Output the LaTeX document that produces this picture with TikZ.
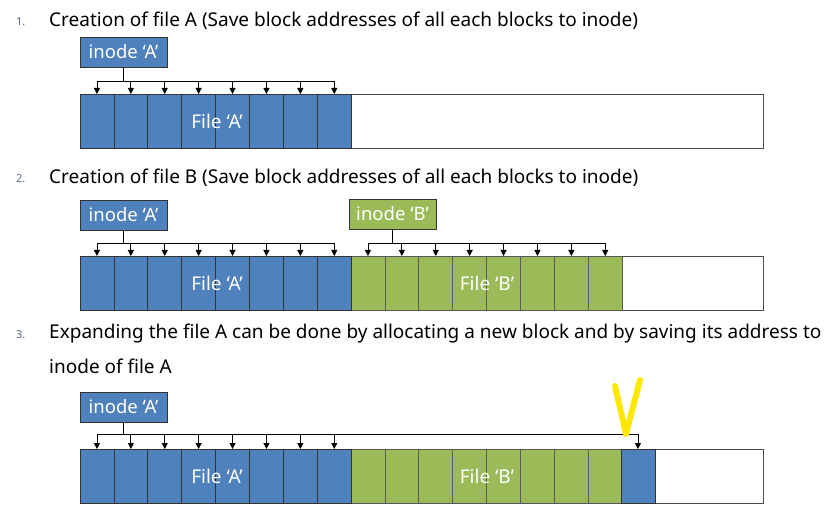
\documentclass[tikz,border=0pt]{standalone}
\usepackage{fontspec}
\setmainfont{Noto Sans}
\usetikzlibrary{positioning,arrows.meta}
\definecolor{blueA}{HTML}{4F81BD}
\definecolor{greenB}{HTML}{9BBB59}
\definecolor{numgray}{HTML}{5A6A8A}
\definecolor{markyellow}{HTML}{FFE800}

\begin{document}
\begin{tikzpicture}[x=1pt, y=-1pt,
    ablk/.style={draw=black!80, fill=blueA, line width=0.7pt, minimum width=33.9pt, minimum height=54pt, inner sep=0pt, outer sep=0pt, anchor=north west},
    bblk/.style={ablk, fill=greenB, draw=black!65},
    strip/.style={draw=black!70, line width=0.7pt, minimum width=683pt, minimum height=54pt, inner sep=0pt, outer sep=0pt, anchor=north west},
    inode/.style={draw=black!80, line width=0.7pt, text=white, minimum width=87pt, minimum height=30pt, inner sep=0pt, outer sep=0pt, anchor=north west, font=\fontsize{18.5}{18.5}\selectfont},
    item/.style={anchor=base west, inner sep=0pt, font=\fontsize{19}{19}\selectfont},
    num/.style={anchor=base west, inner sep=0pt, text=numgray, font=\fontsize{11}{11}\selectfont},
    flabel/.style={text=white, inner sep=0pt, font=\fontsize{19}{19}\selectfont},
    addr/.style={-{Triangle[length=6pt, width=6pt]}, line width=0.9pt},
    bus/.style={line width=0.9pt}]
\useasboundingbox (0,0) rectangle (829,510);

% 1. file A
\node[num] (n1) at (16,26) {1.};
\node[item] (t1) at (49,27) {Creation of file A (Save block addresses of all each blocks to inode)};
\node[inode, fill=blueA] (ia1) at (80,37) {inode ‘A’};
\node[strip] (s1) at (80,94) {};
\foreach \i in {1,...,8}
    \node[ablk] (a1\i) at ({80+33.9*(\i-1)},94) {};
\node[flabel] (fa1) at (217,121) {File ‘A’};
\coordinate (bus1) at (0,81);
\draw[bus] (ia1.south) -- (ia1.south |- bus1);
\draw[bus] (a11.north |- bus1) -- (a18.north |- bus1);
\foreach \i in {1,...,8}
    \draw[addr] (a1\i.north |- bus1) -- (a1\i.north);

% 2. file B
\node[num] (n2) at (16,183) {2.};
\node[item] (t2) at (49,184) {Creation of file B (Save block addresses of all each blocks to inode)};
\node[inode, fill=blueA] (ia2) at (80,200) {inode ‘A’};
\node[inode, fill=greenB] (ib2) at (349,199) {inode ‘B’};
\node[strip] (s2) at (80,256) {};
\foreach \i in {1,...,8} {
    \node[ablk] (a2\i) at ({80+33.9*(\i-1)},256) {};
    \node[bblk] (b2\i) at ({351+33.9*(\i-1)},256) {};
}
\node[flabel] (fa2) at (217,283) {File ‘A’};
\node[flabel] (fb2) at (487,283) {File ‘B’};
\coordinate (bus2) at (0,243);
\draw[bus] (ia2.south) -- (ia2.south |- bus2);
\draw[bus] (a21.north |- bus2) -- (a28.north |- bus2);
\draw[bus] (ib2.south) -- (ib2.south |- bus2);
\draw[bus] (b21.north |- bus2) -- (b28.north |- bus2);
\foreach \i in {1,...,8} {
    \draw[addr] (a2\i.north |- bus2) -- (a2\i.north);
    \draw[addr] (b2\i.north |- bus2) -- (b2\i.north);
}

% 3. expanding file A
\node[num] (n3) at (16,338) {3.};
\node[item] (t3) at (49,338) {Expanding the file A can be done by allocating a new block and by saving its address to};
\node[item] (t3b) at (49,373) {inode of file A};
\node[inode, fill=blueA] (ia3) at (80,392) {inode ‘A’};
\node[strip] (s3) at (80,449) {};
\foreach \i in {1,...,8} {
    \node[ablk] (a3\i) at ({80+33.9*(\i-1)},449) {};
    \node[bblk] (b3\i) at ({351+33.9*(\i-1)},449) {};
}
\node[ablk] (a39) at (621,449) {};
\node[flabel] (fa3) at (217,476) {File ‘A’};
\node[flabel] (fb3) at (487,476) {File ‘B’};
\coordinate (bus3) at (0,434);
\draw[bus] (ia3.south) -- (ia3.south |- bus3);
\draw[bus] (a31.north |- bus3) -- (a39.north |- bus3);
\foreach \i in {1,...,9}
    \draw[addr] (a3\i.north |- bus3) -- (a3\i.north);

% highlight mark
\draw[markyellow, line width=6pt, line cap=round, line join=round] (615,386) -- (626,434) -- (640,380);
\end{tikzpicture}
\end{document}
